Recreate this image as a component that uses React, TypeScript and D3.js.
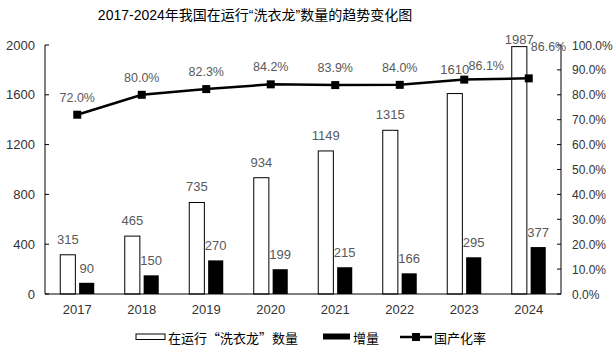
import React from 'react';
import * as d3 from 'd3';

const years = ['2017', '2018', '2019', '2020', '2021', '2022', '2023', '2024'];
const running = [315, 465, 735, 934, 1149, 1315, 1610, 1987];
const increase = [90, 150, 270, 199, 215, 166, 295, 377];
const rate = [72.0, 80.0, 82.3, 84.2, 83.9, 84.0, 86.1, 86.6];
const leftTicks = [0, 400, 800, 1200, 1600, 2000];
const rightTicks = [0, 10, 20, 30, 40, 50, 60, 70, 80, 90, 100];

const W = 615;
const H = 351;
const margin = { top: 45, right: 54, bottom: 57, left: 45 };
const FONT = '"Liberation Sans", "Noto Sans CJK SC", sans-serif';
const CJK = '"Noto Sans CJK SC", sans-serif';
const LABEL = '#595959';

const App = () => {
  const x = d3.scaleBand().domain(years).range([margin.left, W - margin.right]).padding(0);
  const inner = d3.scaleBand().domain(['run', 'inc']).range([-17, 17]).paddingInner(0.2);
  const yL = d3.scaleLinear().domain([0, 2000]).range([H - margin.bottom, margin.top]);
  const yR = d3.scaleLinear().domain([0, 100]).range([H - margin.bottom, margin.top]);
  const cx = (i) => x(years[i]) + x.bandwidth() / 2;

  const line = d3.line().x((d, i) => cx(i)).y((d) => yR(d));
  const x0 = margin.left;
  const x1 = W - margin.right;
  const yBase = H - margin.bottom;

  // the chart's author moved a few rate labels by hand
  const rateLabel = (i) => {
    if (i === 7) return { x: cx(i) + 2, y: yR(rate[i]) - 27, anchor: 'start' };
    if (i === 6) return { x: cx(i) + 22, y: yR(rate[i]) - 10, anchor: 'middle' };
    return { x: cx(i), y: yR(rate[i]) - 13, anchor: 'middle' };
  };
  const runLabelY = (i) => {
    let y = yL(running[i]) - 11;
    const ly = yR(rate[i]);
    if (Math.abs(y - ly) < 10) y = ly - 6;
    return Math.max(y, 44);
  };

  return (
    <svg width={W} height={H} style={{ position: 'absolute', left: 0, top: 0, background: '#fff' }}>
      <text x={255} y={20} textAnchor="middle" fontFamily={FONT} fontSize={14} fill="#000">
        2017-2024年我国在运行“洗衣龙”数量的趋势变化图
      </text>

      {/* bars */}
      {years.map((yr, i) => (
        <g key={yr}>
          <rect
            x={cx(i) + inner('run')}
            y={yL(running[i])}
            width={inner.bandwidth()}
            height={yBase - yL(running[i])}
            fill="#fff"
            stroke="#000"
            strokeWidth={1}
          />
          <rect
            x={cx(i) + inner('inc')}
            y={yL(increase[i])}
            width={inner.bandwidth()}
            height={yBase - yL(increase[i])}
            fill="#000"
          />
          <text
            x={cx(i) + inner('run') + inner.bandwidth() / 2}
            y={runLabelY(i)}
            textAnchor="middle"
            fontFamily={FONT}
            fontSize={13}
            fill={LABEL}
          >
            {running[i]}
          </text>
          <text
            x={cx(i) + inner('inc') + inner.bandwidth() / 2}
            y={yL(increase[i]) - 10}
            textAnchor="middle"
            fontFamily={FONT}
            fontSize={13}
            fill={LABEL}
          >
            {increase[i]}
          </text>
        </g>
      ))}

      {/* axes */}
      <line x1={x0} x2={x0} y1={margin.top} y2={yBase} stroke="#000" />
      <line x1={x1} x2={x1} y1={margin.top} y2={yBase} stroke="#000" />
      <line x1={x0} x2={x1} y1={yBase} y2={yBase} stroke="#000" />
      {leftTicks.map((t) => (
        <g key={t}>
          <line x1={x0} x2={x0 + 4} y1={yL(t)} y2={yL(t)} stroke="#000" />
          <text x={x0 - 10} y={yL(t) + 4.5} textAnchor="end" fontFamily={FONT} fontSize={13} fill="#333">
            {t}
          </text>
        </g>
      ))}
      {rightTicks.map((t) => (
        <g key={t}>
          <line x1={x1 - 4} x2={x1} y1={yR(t)} y2={yR(t)} stroke="#000" />
          <text x={x1 + 11} y={yR(t) + 4.5} textAnchor="start" fontFamily={FONT} fontSize={12} fill="#333">
            {t.toFixed(1)}%
          </text>
        </g>
      ))}
      {years.map((yr, i) => (
        <text key={yr} x={cx(i)} y={yBase + 20} textAnchor="middle" fontFamily={FONT} fontSize={13} fill="#333">
          {yr}
        </text>
      ))}

      {/* rate line */}
      <path d={line(rate)} fill="none" stroke="#000" strokeWidth={2.5} />
      {rate.map((r, i) => (
        <rect key={i} x={cx(i) - 4} y={yR(r) - 4} width={8} height={8} fill="#000" />
      ))}
      {rate.map((r, i) => {
        const p = rateLabel(i);
        return (
          <text key={i} x={p.x} y={p.y} textAnchor={p.anchor} fontFamily={FONT} fontSize={12.5} fill={LABEL}>
            {r.toFixed(1)}%
          </text>
        );
      })}

      {/* legend */}
      <g fontFamily={CJK} fontSize={13} fill="#000">
        <rect x={136} y={334} width={29} height={5.5} fill="#fff" stroke="#000" />
        <text x={168} y={343}>在运行“洗衣龙”数量</text>
        <rect x={323} y={333.5} width={27} height={6} fill="#000" />
        <text x={353} y={343}>增量</text>
        <line x1={400} x2={432} y1={337} y2={337} stroke="#000" strokeWidth={2.5} />
        <rect x={412} y={333} width={8} height={8} fill="#000" />
        <text x={434} y={343}>国产化率</text>
      </g>
    </svg>
  );
};

export default App;
